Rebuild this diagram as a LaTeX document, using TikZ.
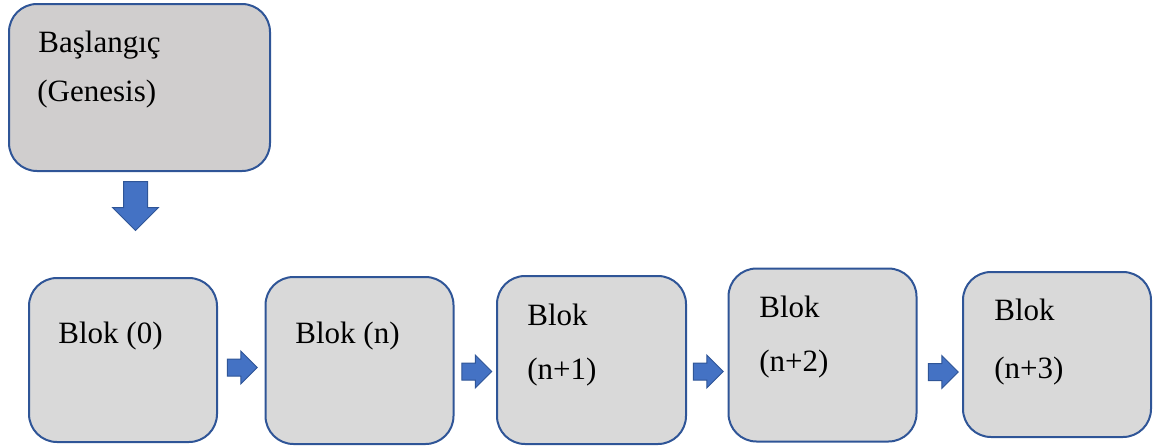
\documentclass[tikz,border=0pt]{standalone}
\usepackage{fontspec}
\setmainfont{Liberation Serif}
\usetikzlibrary{shapes.arrows}
\definecolor{edgeblue}{HTML}{2F5597}
\definecolor{arrowblue}{HTML}{4472C4}
\definecolor{genfill}{HTML}{D0CECE}
\definecolor{blkfill}{HTML}{D9D9D9}
\begin{document}
\begin{tikzpicture}[x=0.5pt,y=-0.5pt,
  box/.style={draw=edgeblue, line width=1pt, rounded corners=14pt, inner sep=0pt},
  blockbox/.style={box, fill=blkfill, minimum width=94pt, minimum height=82pt},
  lbl/.style={anchor=base west, inner sep=0pt, font=\fontsize{15.5}{18}\selectfont},
  flow/.style={single arrow, draw=edgeblue, line width=0.5pt, fill=arrowblue,
    inner xsep=0pt, inner ysep=4pt, single arrow head extend=4pt,
    minimum height=15pt, minimum width=0pt}
]
\path[use as bounding box] (0,0) rectangle (1158,446);

% genesis block
\node[box, fill=genfill, minimum width=130.5pt, minimum height=83.5pt] (gen) at (139.5,87.5) {};
\node[lbl] (genA) at (38,52) {Başlangıç};
\node[lbl] (genB) at (37,101) {(Genesis)};

% arrow down from the genesis block
\node[single arrow, draw=edgeblue, line width=0.5pt, fill=arrowblue, rotate=-90,
  inner xsep=0pt, inner ysep=5.75pt, single arrow head extend=5.5pt,
  minimum height=24.5pt, minimum width=0pt] (down) at (135.5,200) {};

% chain of blocks
\node[blockbox, minimum height=82pt] (b0) at (123,360) {};
\node[blockbox, minimum height=83.5pt] (bn) at (359.5,360.5) {};
\node[blockbox, minimum width=94.5pt, minimum height=84pt] (bn1) at (591.5,360) {};
\node[blockbox, minimum height=86.5pt] (bn2) at (822.5,355) {};
\node[blockbox, minimum height=82.5pt] (bn3) at (1057,354.5) {};

\node[lbl] (t0) at (58,343) {Blok (0)};
\node[lbl] (tn) at (295,343) {Blok (n)};
\node[lbl] (tn1a) at (527,325) {Blok};
\node[lbl] (tn1b) at (527,379) {(n+1)};
\node[lbl] (tn2a) at (759,317) {Blok};
\node[lbl] (tn2b) at (759,371) {(n+2)};
\node[lbl] (tn3a) at (994,320) {Blok};
\node[lbl] (tn3b) at (994,378) {(n+3)};

% arrows between the blocks
\node[flow] (a1) at (238,367.5) {};
\node[flow] (a2) at (472.5,371.5) {};
\node[flow] (a3) at (704,371.5) {};
\node[flow] (a4) at (939,372) {};
\end{tikzpicture}
\end{document}
